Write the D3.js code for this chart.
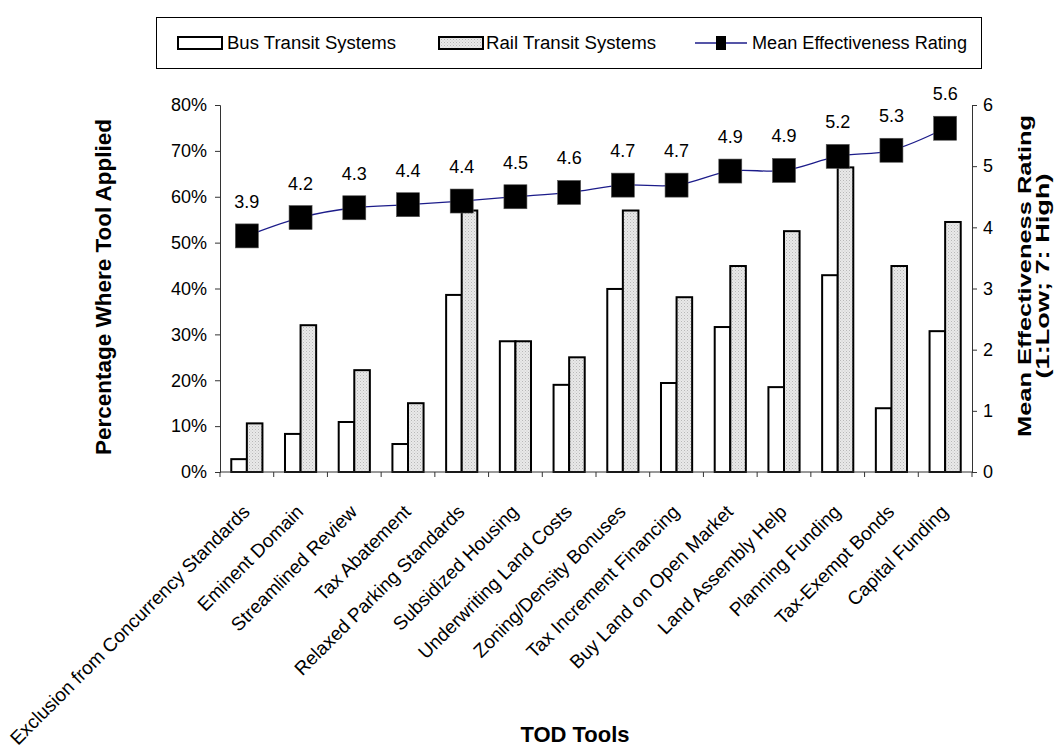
<!DOCTYPE html>
<html>
<head>
<meta charset="utf-8">
<script src="https://cdn.jsdelivr.net/npm/d3@7"></script>
<style>
  html, body { margin: 0; padding: 0; background: #fff; }
  svg { display: block; font-family: "Liberation Sans", Arial, sans-serif; }
</style>
</head>
<body>
<svg id="chart" width="1055" height="752"></svg>
<script>
const categories = [
  "Exclusion from Concurrency Standards", "Eminent Domain", "Streamlined Review",
  "Tax Abatement", "Relaxed Parking Standards", "Subsidized Housing",
  "Underwriting Land Costs", "Zoning/Density Bonuses", "Tax Increment Financing",
  "Buy Land on Open Market", "Land Assembly Help", "Planning Funding",
  "Tax-Exempt Bonds", "Capital Funding"
];
const busValues  = [0.028, 0.083, 0.109, 0.061, 0.386, 0.285, 0.190, 0.399, 0.194, 0.316, 0.185, 0.429, 0.139, 0.307];
const railValues = [0.106, 0.320, 0.222, 0.150, 0.570, 0.285, 0.250, 0.570, 0.381, 0.449, 0.525, 0.664, 0.449, 0.545];
const ratings    = [3.86, 4.16, 4.32, 4.37, 4.43, 4.50, 4.57, 4.69, 4.69, 4.92, 4.93, 5.16, 5.26, 5.62];
const leftTicks  = [0, 0.1, 0.2, 0.3, 0.4, 0.5, 0.6, 0.7, 0.8];
const rightTicks = [0, 1, 2, 3, 4, 5, 6];
const seriesNames = ["Bus Transit Systems", "Rail Transit Systems", "Mean Effectiveness Rating"];

const svg = d3.select("#chart");
const m = { left: 220, right: 972, top: 105, bottom: 472 };

const defs = svg.append("defs");
const pat = defs.append("pattern").attr("id", "dots").attr("width", 3).attr("height", 3)
  .attr("patternUnits", "userSpaceOnUse");
pat.append("rect").attr("width", 3).attr("height", 3).attr("fill", "#e9e9e9");
pat.append("rect").attr("x", 0).attr("y", 0).attr("width", 1).attr("height", 1).attr("fill", "#b8b8b8");
pat.append("rect").attr("x", 1.5).attr("y", 1.5).attr("width", 1).attr("height", 1).attr("fill", "#cccccc");

const x = d3.scaleBand().domain(categories).range([m.left, m.right])
  .paddingInner(0.42).paddingOuter(0.21);
const xSub = d3.scaleBand().domain(["bus", "rail"]).range([0, x.bandwidth()]);
const yL = d3.scaleLinear().domain([0, 0.8]).range([m.bottom, m.top]);
const yR = d3.scaleLinear().domain([0, 6]).range([m.bottom, m.top]);

// Bars
const g = svg.append("g");
categories.forEach((c, i) => {
  g.append("rect").attr("x", x(c) + xSub("bus")).attr("y", yL(busValues[i]))
    .attr("width", xSub.bandwidth()).attr("height", yL(0) - yL(busValues[i]))
    .attr("fill", "#fff").attr("stroke", "#000").attr("stroke-width", 2);
  g.append("rect").attr("x", x(c) + xSub("rail")).attr("y", yL(railValues[i]))
    .attr("width", xSub.bandwidth()).attr("height", yL(0) - yL(railValues[i]))
    .attr("fill", "url(#dots)").attr("stroke", "#000").attr("stroke-width", 2);
});

// Axes
const axisColor = "#333";
const leftAxis = svg.append("g").attr("transform", `translate(${m.left},0)`)
  .call(d3.axisLeft(yL).tickValues(leftTicks).tickFormat(d3.format(".0%")).tickSize(5).tickPadding(8));
const rightAxis = svg.append("g").attr("transform", `translate(${m.right},0)`)
  .call(d3.axisRight(yR).tickValues(rightTicks).tickFormat(d3.format("d")).tickSize(5).tickPadding(6));
[leftAxis, rightAxis].forEach(a => {
  a.select(".domain").attr("stroke", axisColor);
  a.selectAll(".tick line").attr("stroke", axisColor);
  a.selectAll("text").attr("font-size", 18).attr("fill", "#000").attr("font-family", "Liberation Sans, Arial");
});

// X axis line with ticks between categories
const xAxisG = svg.append("g");
xAxisG.append("line").attr("x1", m.left).attr("x2", m.right).attr("y1", m.bottom).attr("y2", m.bottom)
  .attr("stroke", axisColor);
const step = x.step();
d3.range(categories.length + 1).forEach(i => {
  const xx = m.left + i * step;
  xAxisG.append("line").attr("x1", xx).attr("x2", xx).attr("y1", m.bottom).attr("y2", m.bottom + 5)
    .attr("stroke", axisColor);
});
categories.forEach(c => {
  const cx = x(c) + x.bandwidth() / 2;
  xAxisG.append("text").attr("transform", `translate(${cx + 4},${m.bottom + 41}) rotate(-45)`)
    .attr("text-anchor", "end").attr("font-size", 19).attr("fill", "#000").text(c);
});

// Line
const pts = categories.map((c, i) => [x(c) + x.bandwidth() / 2, yR(ratings[i])]);
svg.append("path").attr("d", d3.line().curve(d3.curveCatmullRom.alpha(0.5))(pts))
  .attr("fill", "none").attr("stroke", "#1c1c8a").attr("stroke-width", 1.3);
svg.append("g").selectAll("rect").data(pts).join("rect")
  .attr("x", d => d[0] - 11.5).attr("y", d => d[1] - 12).attr("width", 23).attr("height", 24)
  .attr("fill", "#000").attr("stroke", "#555").attr("stroke-width", 0.6);
svg.append("g").selectAll("text").data(categories).join("text")
  .attr("x", (c) => x(c) + x.bandwidth() / 2)
  .attr("y", (c, i) => yR(ratings[i]) - 28)
  .attr("text-anchor", "middle").attr("font-size", 18).attr("fill", "#000")
  .text((c, i) => ratings[i].toFixed(1));

// Axis titles
svg.append("text").attr("transform", "translate(111,287) rotate(-90)")
  .attr("text-anchor", "middle").attr("font-size", 22).attr("font-weight", "bold")
  .attr("textLength", 336).attr("lengthAdjust", "spacingAndGlyphs")
  .text("Percentage Where Tool Applied");
const rt = svg.append("g").attr("transform", "translate(0,276) rotate(-90)");
rt.append("text").attr("x", 0).attr("y", 1031).attr("text-anchor", "middle")
  .attr("font-size", 19).attr("font-weight", "bold")
  .attr("textLength", 322).attr("lengthAdjust", "spacingAndGlyphs")
  .text("Mean Effectiveness Rating");
rt.append("text").attr("x", 0).attr("y", 1049).attr("text-anchor", "middle")
  .attr("font-size", 18).attr("font-weight", "bold")
  .attr("textLength", 205).attr("lengthAdjust", "spacingAndGlyphs")
  .text("(1:Low; 7: High)");
svg.append("text").attr("x", 575).attr("y", 742).attr("text-anchor", "middle")
  .attr("font-size", 22).attr("font-weight", "bold").text("TOD Tools");

// Legend
const lg = svg.append("g");
lg.append("rect").attr("x", 156.5).attr("y", 17.5).attr("width", 825).attr("height", 51)
  .attr("fill", "#fff").attr("stroke", "#000").attr("stroke-width", 1);
const ly = 43;
lg.append("rect").attr("x", 178).attr("y", ly - 6).attr("width", 44).attr("height", 12)
  .attr("fill", "#fff").attr("stroke", "#000").attr("stroke-width", 2);
lg.append("text").attr("x", 227).attr("y", ly + 6).attr("font-size", 18)
  .attr("textLength", 169).attr("lengthAdjust", "spacingAndGlyphs").text(seriesNames[0]);
lg.append("rect").attr("x", 439).attr("y", ly - 6).attr("width", 44).attr("height", 12)
  .attr("fill", "url(#dots)").attr("stroke", "#000").attr("stroke-width", 2);
lg.append("text").attr("x", 486).attr("y", ly + 6).attr("font-size", 18)
  .attr("textLength", 170).attr("lengthAdjust", "spacingAndGlyphs").text(seriesNames[1]);
lg.append("line").attr("x1", 695).attr("x2", 747).attr("y1", ly).attr("y2", ly)
  .attr("stroke", "#1c1c8a").attr("stroke-width", 1.3);
lg.append("rect").attr("x", 716).attr("y", ly - 7).attr("width", 10).attr("height", 14).attr("fill", "#000");
lg.append("text").attr("x", 752).attr("y", ly + 6).attr("font-size", 18)
  .attr("textLength", 215).attr("lengthAdjust", "spacingAndGlyphs").text(seriesNames[2]);
</script>
</body>
</html>
